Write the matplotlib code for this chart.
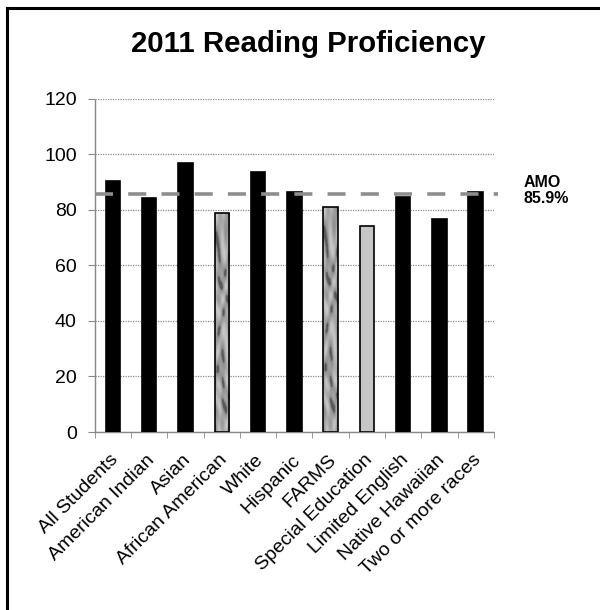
import matplotlib
matplotlib.use("Agg")
import matplotlib.pyplot as plt
import matplotlib.transforms as mtransforms
from matplotlib.lines import Line2D
import numpy as np

plt.rcParams['font.family'] = ['Liberation Sans', 'DejaVu Sans']

groups = ["All Students", "American Indian", "Asian", "African American", "White",
          "Hispanic", "FARMS", "Special Education", "Limited English",
          "Native Hawaiian", "Two or more races"]
proficiency = [90.5, 84.3, 96.8, 78.8, 93.6, 86.4, 81.0, 74.2, 84.8, 76.6, 86.4]
amo_target = 85.9
y_ticks = [0, 20, 40, 60, 80, 100, 120]

marbled = ["African American", "FARMS"]
stippled = ["Special Education"]

fig = plt.figure(figsize=(6.0, 6.1), dpi=100)
ax = fig.add_axes([0.158, 0.2918, 0.665, 0.546])

x = np.arange(len(groups))
colors = []
for g in groups:
    if g in marbled:
        colors.append("none")
    elif g in stippled:
        colors.append("#c6c6c6")
    else:
        colors.append("black")
bars = ax.bar(x, proficiency, width=0.4, color=colors, edgecolor="black",
              linewidth=1.2, zorder=3)

# marble-like fill for the textured bars
gy, gx = np.mgrid[0:200, 0:30]
veins = np.sin(gy / 9.0 + 2.5 * np.sin(gx / 6.0 + gy / 23.0)) \
    + 0.6 * np.sin(gy / 4.3 - gx / 3.1 + 1.7 * np.cos(gy / 15.0))
marble = 0.64 + 0.09 * veins
marble[veins < -1.1] = 0.35
for b, g in zip(bars, groups):
    if g in marbled:
        x0, w, h = b.get_x(), b.get_width(), b.get_height()
        im = ax.imshow(marble, cmap="gray", vmin=0, vmax=1, aspect="auto",
                       extent=(x0, x0 + w, 0, h), zorder=2.9, interpolation="bilinear")
        im.set_clip_path(b)
ax.set_xlim(-0.5, len(groups) - 0.5)
ax.set_ylim(0, 120)

ax.axhline(amo_target, color="#8e8e8e", linewidth=2.6, linestyle=(0, (5, 4.2)),
           zorder=4, xmin=0, xmax=1.01, clip_on=False)

ax.set_yticks(y_ticks)
ax.set_yticklabels([str(v) for v in y_ticks], fontsize=14)
ax.tick_params(axis="y", length=5, color="#888888", pad=8)

ax.set_xticks(x)
ax.set_xticklabels(groups, rotation=45, ha="right", rotation_mode="anchor", fontsize=14)
ax.tick_params(axis="x", which="major", length=0, pad=9)
shift = mtransforms.ScaledTranslation(-3 / 100, -7 / 100, fig.dpi_scale_trans)
for lbl in ax.get_xticklabels():
    lbl.set_transform(lbl.get_transform() + shift)
ax.set_xticks(np.arange(-0.5, len(groups) + 0.5, 1), minor=True)
ax.tick_params(axis="x", which="minor", length=4, color="#888888")

ax.grid(axis="y", color="#8a8a8a", linestyle=(0, (1, 1)), linewidth=0.9, zorder=0)
for side in ("top", "right"):
    ax.spines[side].set_visible(False)
for side in ("left", "bottom"):
    ax.spines[side].set_color("#888888")
    ax.spines[side].set_linestyle((0, (1, 1)))
    ax.spines[side].set_linewidth(1.0)

fig.text(0.514, 0.928, "2011 Reading Proficiency", ha="center", va="center",
         fontsize=21.2, fontweight="bold")
fig.text(0.873, 0.688, "AMO\n85.9%", ha="left", va="center", fontsize=11.5,
         fontweight="bold", linespacing=1.1)

# outer frame
fig.add_artist(Line2D([0.011, 0.011], [0.0, 0.987], color="black", linewidth=2.2,
                      transform=fig.transFigure))
fig.add_artist(Line2D([0.011, 1.0], [0.987, 0.987], color="black", linewidth=2.2,
                      transform=fig.transFigure))

fig.savefig("out.png", dpi=100)
